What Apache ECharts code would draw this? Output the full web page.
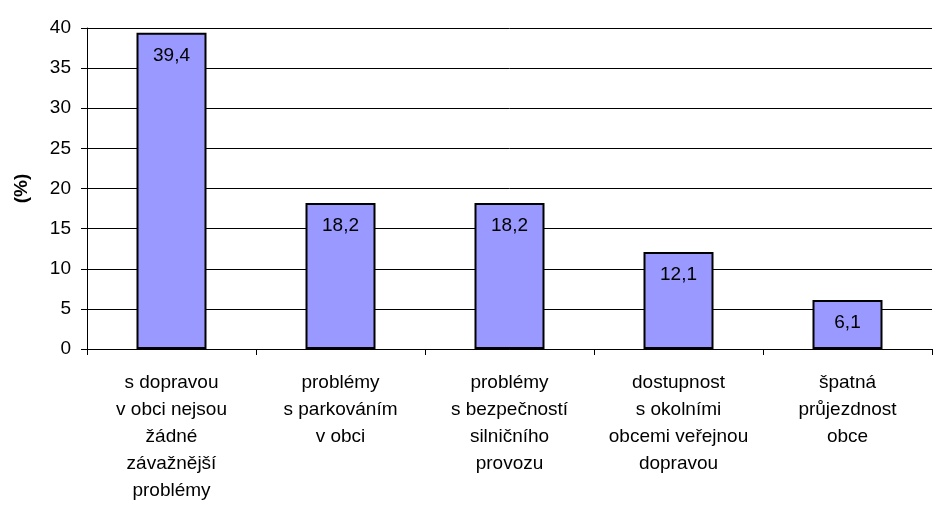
<!DOCTYPE html>
<html>
<head>
<meta charset="utf-8">
<script src="https://cdn.jsdelivr.net/npm/echarts@6/dist/echarts.min.js"></script>
<style>
html, body { margin: 0; padding: 0; background: #fff; }
#chart { width: 933px; height: 512px; }
</style>
</head>
<body>
<div id="chart"></div>
<script>
// Problems with traffic in the municipality (share of answers, %)
const categories = [
  's dopravou\nv obci nejsou\nžádné\nzávažnější\nproblémy',
  'problémy\ns parkováním\nv obci',
  'problémy\ns bezpečností\nsilničního\nprovozu',
  'dostupnost\ns okolními\nobcemi veřejnou\ndopravou',
  'špatná\nprůjezdnost\nobce'
];
const values = [39.4, 18.2, 18.2, 12.1, 6.1];
const yTicks = { min: 0, max: 40, interval: 5 };
const yTitle = '(%)';

const chart = echarts.init(document.getElementById('chart'), null, { renderer: 'canvas' });
chart.setOption({
  animation: false,
  textStyle: { fontFamily: 'Liberation Sans, Arial, sans-serif' },
  grid: { left: 87, right: 1, top: 28, bottom: 163, containLabel: false },
  xAxis: {
    type: 'category',
    data: categories,
    axisLine: { lineStyle: { color: '#000', width: 1 } },
    axisTick: { show: true, length: 6, alignWithLabel: false, lineStyle: { color: '#000' } },
    axisLabel: {
      interval: 0,
      color: '#000',
      fontSize: 19,
      lineHeight: 27,
      margin: 20
    }
  },
  yAxis: {
    type: 'value',
    min: yTicks.min,
    max: yTicks.max,
    interval: yTicks.interval,
    name: yTitle,
    nameLocation: 'middle',
    nameGap: 56,
    nameMoveOverlap: false,
    nameRotate: 90,
    nameTextStyle: { color: '#000', fontSize: 19, fontWeight: 'bold' },
    axisLine: { show: true, lineStyle: { color: '#000', width: 1 } },
    axisTick: { show: true, length: 6, lineStyle: { color: '#000' } },
    axisLabel: { color: '#000', fontSize: 19, margin: 16 },
    splitLine: { show: true, lineStyle: { color: '#000', width: 1 } }
  },
  series: [{
    type: 'bar',
    data: values,
    barWidth: 70,
    itemStyle: { color: '#9999ff', borderColor: '#000', borderWidth: 2 },
    label: {
      show: true,
      position: 'insideTop',
      distance: 13,
      color: '#000',
      fontSize: 19,
      formatter: p => String(p.value).replace('.', ',')
    }
  }]
});
</script>
</body>
</html>
